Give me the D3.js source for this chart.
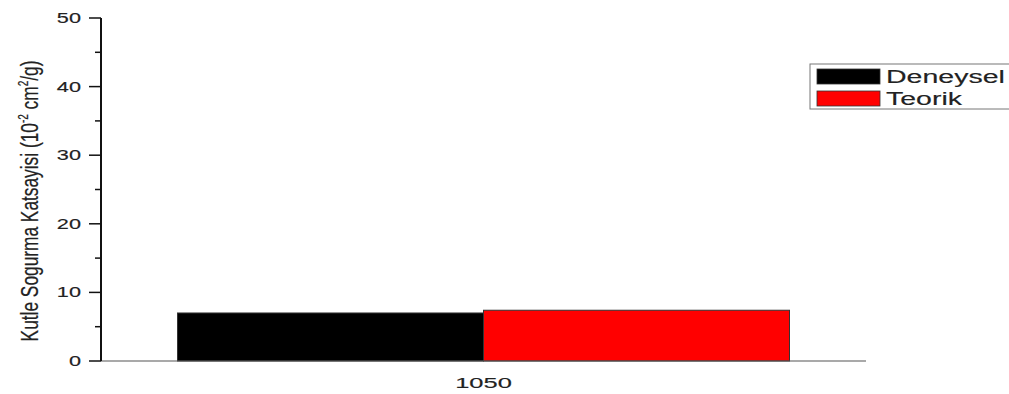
<!DOCTYPE html>
<html>
<head>
<meta charset="utf-8">
<script src="https://cdn.jsdelivr.net/npm/d3@7"></script>
<style>
  html, body { margin: 0; padding: 0; background: #fff; }
  svg { display: block; font-family: "Liberation Sans", Arial, sans-serif; }
  svg text { stroke: #222; stroke-width: 0.15px; }
</style>
</head>
<body>
<svg id="chart" width="1009" height="394"></svg>
<script>
// Energy (keV) categories and mass attenuation coefficients (10^-2 cm^2/g)
const categories = ["1050"];
const seriesNames = ["Deneysel", "Teorik"];
const seriesColors = ["#000000", "#ff0000"];
const deneysel = [7.0];
const teorik = [7.4];
const yTicks = [0, 10, 20, 30, 40, 50];
const yMinorTicks = [5, 15, 25, 35, 45];

const rows = categories.map((c, i) => ({ cat: c, values: [deneysel[i], teorik[i]] }));

const svg = d3.select("#chart");
const plotLeft = 101, plotRight = 866, plotTop = 18, plotBottom = 361;

const x = d3.scaleBand().domain(categories).range([plotLeft, plotRight])
  .paddingInner(0.2).paddingOuter(0.1);
const xs = d3.scaleBand().domain(seriesNames).range([0, x.bandwidth()]);
const y = d3.scaleLinear().domain([0, 50]).range([plotBottom, plotTop]);

// bars
const groups = svg.selectAll("g.cat").data(rows).join("g")
  .attr("class", "cat")
  .attr("transform", d => `translate(${x(d.cat)},0)`);
groups.selectAll("rect").data(d => d.values.map((v, i) => ({ v, i }))).join("rect")
  .attr("x", d => xs(seriesNames[d.i]))
  .attr("y", d => y(d.v))
  .attr("width", xs.bandwidth())
  .attr("height", d => y(0) - y(d.v))
  .attr("fill", d => seriesColors[d.i])
  .attr("stroke", "#333")
  .attr("stroke-width", 1);

// x axis baseline
svg.append("line")
  .attr("x1", plotLeft).attr("x2", plotRight)
  .attr("y1", y(0)).attr("y2", y(0))
  .attr("stroke", "#555").attr("stroke-width", 1.2);

// category label (wide glyphs)
categories.forEach(c => {
  svg.append("text")
    .attr("transform", `translate(${x(c) + x.bandwidth() / 2},388) scale(1.7,1)`)
    .attr("text-anchor", "middle")
    .attr("font-size", 15)
    .attr("fill", "#222")
    .text(c);
});

// y axis
const yAxis = svg.append("g");
yAxis.append("line")
  .attr("x1", plotLeft).attr("x2", plotLeft)
  .attr("y1", y(0)).attr("y2", y(50))
  .attr("stroke", "#111").attr("stroke-width", 2);
yAxis.selectAll("line.major").data(yTicks).join("line")
  .attr("class", "major")
  .attr("x1", plotLeft - 12).attr("x2", plotLeft)
  .attr("y1", d => y(d)).attr("y2", d => y(d))
  .attr("stroke", "#111").attr("stroke-width", 1.5);
yAxis.selectAll("line.minor").data(yMinorTicks).join("line")
  .attr("class", "minor")
  .attr("x1", plotLeft - 6).attr("x2", plotLeft)
  .attr("y1", d => y(d)).attr("y2", d => y(d))
  .attr("stroke", "#111").attr("stroke-width", 1.5);
yAxis.selectAll("text").data(yTicks).join("text")
  .attr("transform", d => `translate(81,${y(d) + 5}) scale(1.55,1)`)
  .attr("text-anchor", "end")
  .attr("font-size", 14)
  .attr("fill", "#222")
  .text(d => d);

// y axis title with superscripts
const yTitle = svg.append("text")
  .attr("transform", "translate(38,201) scale(1.4,1) rotate(-90)")
  .attr("text-anchor", "middle")
  .attr("font-size", 16)
  .attr("fill", "#222");
yTitle.append("tspan").text("Kutle Sogurma Katsayisi (10");
yTitle.append("tspan").attr("dy", -7).attr("font-size", 10).text("-2");
yTitle.append("tspan").attr("dy", 7).text(" cm");
yTitle.append("tspan").attr("dy", -7).attr("font-size", 10).text("2");
yTitle.append("tspan").attr("dy", 7).text("/g)");
const len = yTitle.node().getComputedTextLength();
yTitle.attr("font-size", 16 * 282 / len);

// legend
const legend = svg.append("g");
legend.append("rect")
  .attr("x", 810).attr("y", 64)
  .attr("width", 210).attr("height", 45)
  .attr("fill", "#fff").attr("stroke", "#777").attr("stroke-width", 1);
seriesNames.forEach((name, i) => {
  const yy = 69 + i * 22;
  legend.append("rect")
    .attr("x", 817).attr("y", yy)
    .attr("width", 63).attr("height", 15)
    .attr("fill", seriesColors[i])
    .attr("stroke", "#333").attr("stroke-width", 0.8);
  legend.append("text")
    .attr("transform", `translate(886,${yy + 14}) scale(1.5,1)`)
    .attr("font-size", 19)
    .attr("fill", "#222")
    .text(name);
});
</script>
</body>
</html>
